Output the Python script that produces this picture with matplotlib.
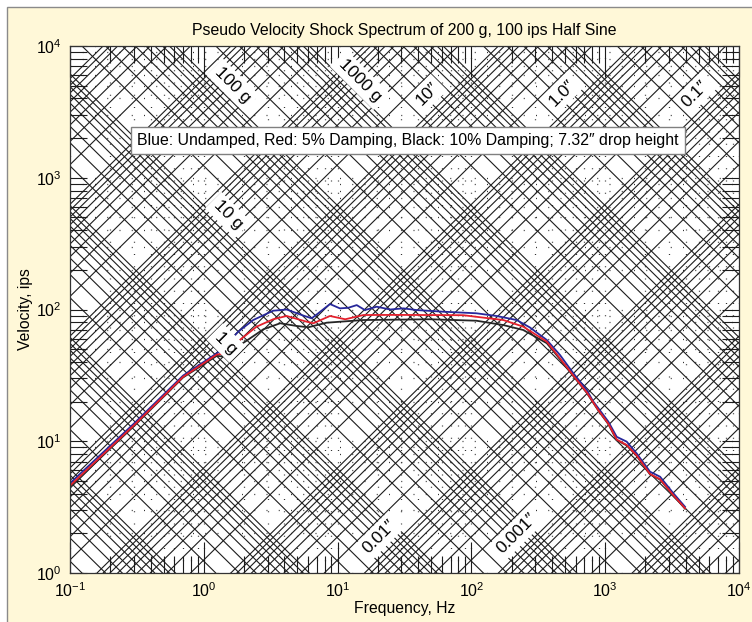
import numpy as np
import matplotlib
matplotlib.use("Agg")
import matplotlib.pyplot as plt
from matplotlib.patches import Rectangle
from matplotlib.ticker import LogLocator, NullFormatter

plt.rcParams['font.family'] = ['Liberation Sans', 'DejaVu Sans']
plt.rcParams['mathtext.fontset'] = 'custom'
plt.rcParams['mathtext.rm'] = 'Liberation Sans'
plt.rcParams['mathtext.it'] = 'Liberation Sans:italic'

# shock spectrum curves (frequency Hz, velocity ips)
blue_f = [0.1, 0.3, 0.7, 1.25, 1.36, 1.81, 2.34, 3.3, 4.16, 5.39, 6.4, 7.17, 8.77,
          10.4, 12.0, 13.9, 16.0, 19.6, 24.7, 31, 39, 61.7, 109, 154, 218, 274,
          366, 459, 578, 728, 815, 889, 1055, 1219, 1448, 1718, 2163, 2570, 3230, 3950]
blue_v = [4.8, 13.6, 31.5, 46.5, 49.5, 67.9, 83.2, 97.9, 100, 90.8, 85.7, 93.6, 110,
          102, 103, 108, 99, 105, 100, 102, 99, 96.2, 93.6, 89.3, 83.2, 73.0,
          58.7, 45.2, 32.8, 24.5, 20.0, 17.8, 14.1, 10.8, 9.93, 8.09, 5.87, 5.38, 4.03, 3.18]

red_f = [0.1, 0.3, 0.7, 1.25, 1.40, 1.97, 2.48, 3.3, 4.16, 5.87, 6.59, 8.77, 11.4,
         15.6, 27.5, 86.9, 120, 173, 244, 366, 459, 578, 728, 889, 1055, 1219,
         1448, 1718, 2163, 2570, 3230, 3950]
red_v = [4.6, 13.2, 30.8, 45.5, 46.2, 61.5, 74.1, 84.3, 89.3, 80.8, 78.6, 89.3, 84.3,
         90.8, 91, 90.5, 87, 83.2, 74.1, 57.0, 42.6, 31.5, 23.5, 17.2, 13.6, 10.3,
         9.37, 7.8, 5.64, 5.15, 3.9, 3.10]

black_f = [0.1, 0.3, 0.7, 1.25, 1.38, 2.09, 2.79, 3.72, 4.94, 6.04, 8.28, 15.6, 49,
           109, 173, 244, 366, 459, 578, 728, 889, 1055, 1219, 1448, 1718, 2163,
           2570, 3230, 3950]
black_v = [4.55, 13.0, 30.5, 44.5, 44.0, 58, 70.8, 78.6, 75, 73.3, 79.4, 83.2, 84.3,
           82.2, 76.2, 69.9, 55.5, 42.0, 31.2, 23.3, 17.1, 13.5, 10.2, 9.3, 7.75, 5.6,
           5.12, 3.88, 3.08]

# background grid values
disp_decades = range(-6, 4)      # inches
accel_decades = range(-3, 6)     # g
G = 386.09

# label text and positions (frequency, velocity)
accel_labels = [("1000 g", 14.7, 5520), ("100 g", 1.65, 5060), ("10 g", 1.52, 521), ("1 g", 1.47, 55.7)]
disp_labels = [("10\u2033", 46.6, 4320), ("1.0\u2033", 475, 4400), ("0.1\u2033", 4690, 4320),
               ("0.01\u2033", 20.4, 1.88), ("0.001\u2033", 219, 2.01)]

fig = plt.figure(figsize=(7.52, 6.22), dpi=100, facecolor='white')
fig.patches.append(Rectangle((7 / 752, -0.1), 1.2, 1.1 - 7 / 622, transform=fig.transFigure,
                             facecolor='#fff8d8', edgecolor='#8a8a8a', linewidth=1.0, zorder=-10))

ax = fig.add_axes([70 / 752, 1 - 573 / 622, 669 / 752, 527 / 622])
ax.set_xscale('log')
ax.set_yscale('log')
ax.set_xlim(0.1, 1e4)
ax.set_ylim(1, 1e4)
ax.set_facecolor('white')

fx = np.array([0.1, 1e4])
for k in disp_decades:
    for m in range(1, 10):
        d = m * 10.0 ** k
        ax.plot(fx, 2 * np.pi * fx * d, color='#1c1c1c', lw=0.8, zorder=1)
for k in accel_decades:
    for m in range(1, 10):
        a = m * 10.0 ** k
        ax.plot(fx, a * G / (2 * np.pi * fx), color='#1c1c1c', lw=0.8, zorder=1)

ax.plot(black_f, black_v, color='#262626', lw=1.3, zorder=2.5)
ax.plot(blue_f, blue_v, color='#27279a', lw=1.3, zorder=3)
ax.plot(red_f, red_v, color='#e4202c', lw=1.3, zorder=4)

for txt, f, v in accel_labels:
    ax.text(f, v, txt, rotation=-45, ha='center', va='center', fontsize=12.5, zorder=6,
            rotation_mode='anchor',
            bbox=dict(facecolor='white', edgecolor='none', pad=3))
for txt, f, v in disp_labels:
    ax.text(f, v, txt, rotation=45, ha='center', va='center', fontsize=12.5, zorder=6,
            rotation_mode='anchor',
            bbox=dict(facecolor='white', edgecolor='none', pad=3))

ax.text(0.505, 0.821, "Blue: Undamped, Red: 5% Damping, Black: 10% Damping; 7.32\u2033 drop height",
        transform=ax.transAxes, ha='center', va='center', fontsize=11.4, zorder=7,
        bbox=dict(facecolor='white', edgecolor='#808080', linewidth=1.0, pad=4.5))

ax.grid(True, which='both', linestyle=(0, (0.8, 9)), color='#333333', lw=0.9, zorder=0)
ax.set_axisbelow(True)

ax.xaxis.set_major_locator(LogLocator(base=10, numticks=10))
ax.xaxis.set_minor_locator(LogLocator(base=10, subs=np.arange(2, 10), numticks=10))
ax.yaxis.set_major_locator(LogLocator(base=10, numticks=10))
ax.yaxis.set_minor_locator(LogLocator(base=10, subs=np.arange(2, 10), numticks=10))
ax.xaxis.set_minor_formatter(NullFormatter())
ax.yaxis.set_minor_formatter(NullFormatter())
ax.tick_params(which='both', direction='in', top=True, right=True, width=0.8, color='#1c1c1c',
               labelsize=11.5)
ax.tick_params(axis='x', which='major', length=22, pad=6)
ax.tick_params(axis='y', which='major', length=12, pad=6)
ax.tick_params(which='minor', length=12)
for s in ax.spines.values():
    s.set_linewidth(0.9)
    s.set_color('#333333')
    s.set_zorder(8)

ax.set_xlabel("Frequency, Hz", fontsize=11.3, labelpad=1)
ax.set_ylabel("Velocity, ips", fontsize=11.3, labelpad=2)
fig.text(404 / 752, 1 - 30 / 622, "Pseudo Velocity Shock Spectrum of 200 g, 100 ips Half Sine",
         ha='center', va='center', fontsize=11.4)

fig.savefig("out.png", dpi=100, facecolor=fig.get_facecolor())
